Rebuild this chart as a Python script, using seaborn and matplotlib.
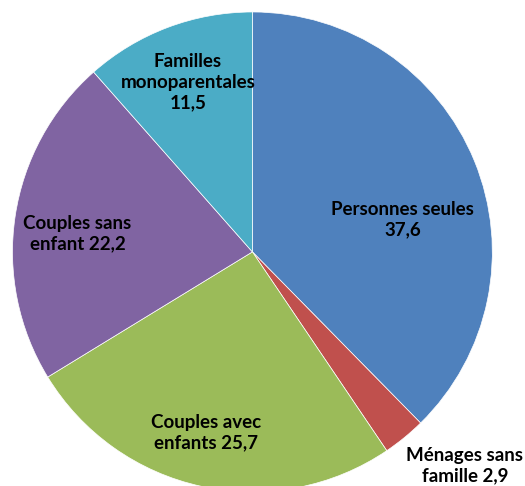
import matplotlib
matplotlib.use("Agg")
import matplotlib.pyplot as plt
import seaborn as sns

categories = ["Personnes seules", "Ménages sans famille", "Couples avec enfants",
              "Couples sans enfant", "Familles monoparentales"]
values = [37.6, 2.9, 25.7, 22.2, 11.5]
label_texts = ["Personnes seules\n37,6", "Ménages sans\nfamille 2,9",
               "Couples avec\nenfants 25,7", "Couples sans\nenfant 22,2",
               "Familles\nmonoparentales\n11,5"]
colors = ["#4F81BD", "#C0504D", "#9BBB59", "#8064A2", "#4BACC6"]

sns.set_theme(style="white")
plt.rcParams["font.family"] = ["Lato", "DejaVu Sans"]

fig = plt.figure(figsize=(5.25, 4.86), dpi=100)
ax = fig.add_axes([0.0238, -0.0123, 0.914, 0.988])
ax.pie(values, colors=colors, startangle=90, counterclock=False, radius=1,
       wedgeprops=dict(edgecolor="white", linewidth=0.5))
ax.set_xlim(-1, 1)
ax.set_ylim(-1, 1)
ax.set_aspect("equal")
ax.axis("off")

# label centres, in pie radius units
label_pos = [(0.627, 0.133), (0.885, -0.892), (-0.194, -0.752),
             (-0.729, 0.077), (-0.269, 0.708)]
for txt, (x, y) in zip(label_texts, label_pos):
    ax.text(x, y, txt, ha="center", va="center", fontsize=13.5, fontweight="bold",
            color="black", linespacing=1.25, clip_on=False)

fig.savefig("out.png", dpi=100)
